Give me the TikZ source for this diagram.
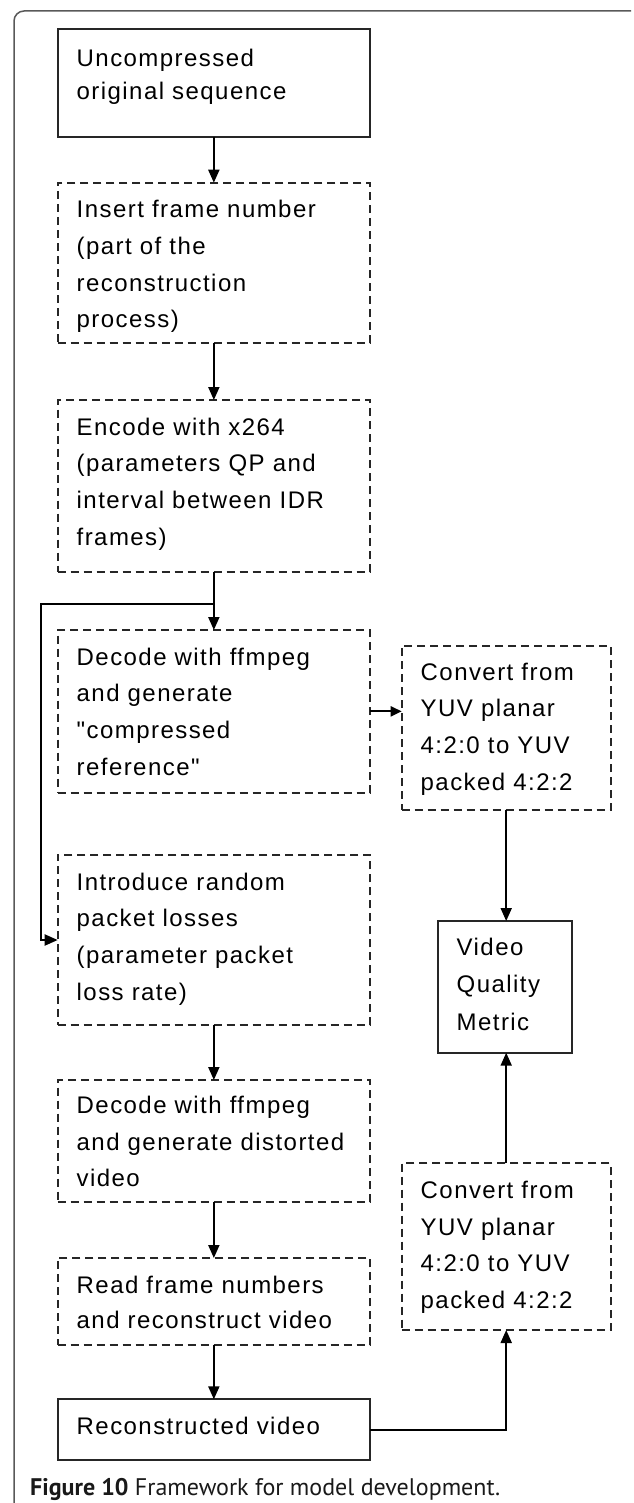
\documentclass[tikz,border=0pt]{standalone}
\usepackage{fontspec}
\usetikzlibrary{arrows.meta}
\newfontfamily\boxfont{Liberation Sans}[LetterSpace=6]
\newfontfamily\capfont{PT Sans}
% #1 width, #2 height, #3 baselineskip, #4 first baseline from top, #5 text
\newcommand\bxt[5]{\vbox to #2{\hsize=#1\relax\parindent=0pt\leftskip=19pt\rightskip=0pt plus 1fil\parfillskip=0pt plus 1fil\baselineskip=#3\relax\lineskiplimit=0pt\vskip\dimexpr#4-20pt\relax\noindent\rule{0pt}{20pt}#5\par\vss}}
\tikzset{
  bx/.style={draw=black!85, line width=1.8pt, inner sep=0pt, outer sep=0pt, anchor=north west,
             font=\boxfont\fontsize{24pt}{36.7pt}\selectfont},
  dbx/.style={bx, dash pattern=on 8pt off 5pt},
  arr/.style={draw=black, line width=2pt, -{Triangle[length=13pt,width=11pt]}},
  arrs/.style={draw=black, line width=2pt, -{Triangle[length=11pt,width=10pt]}},
  frame/.style={draw=black!65, line width=1.5pt, rounded corners=10pt},
}
\begin{document}
\begin{tikzpicture}[x=1pt,y=-1pt]
\useasboundingbox (0,0) rectangle (633,1503);
\draw[frame] (14,1510) -- (14,11) -- (631,11);

\node[bx]  (B1) at (57.7,29.3)   {\bxt{312.3pt}{107.4pt}{33.3pt}{37.4pt}{Uncompressed\\original sequence}};
\node[dbx] (B2) at (57.7,182.7)  {\bxt{312.3pt}{160pt}{36.7pt}{35pt}{Insert frame number\\(part of the\\reconstruction\\process)}};
\node[dbx] (B3) at (57.7,400)    {\bxt{312.3pt}{171.7pt}{36.7pt}{35pt}{Encode with x264\\(parameters QP and\\interval between IDR\\frames)}};
\node[dbx] (D1) at (57.7,630)    {\bxt{312.3pt}{162.7pt}{36.7pt}{35pt}{Decode with ffmpeg\\and generate\\"compressed\\reference"}};
\node[dbx] (I)  at (57.7,855)    {\bxt{312.3pt}{170pt}{36.7pt}{35pt}{Introduce random\\packet losses\\(parameter packet\\loss rate)}};
\node[dbx] (D2) at (57.7,1080)   {\bxt{312.3pt}{121.7pt}{36.7pt}{33.5pt}{Decode with ffmpeg\\and generate distorted\\video}};
\node[dbx] (R)  at (57.7,1258)   {\bxt{312.3pt}{87pt}{35pt}{35pt}{Read frame numbers\\and reconstruct video}};
\node[bx]  (Rec) at (57.7,1399.3) {\bxt{312.3pt}{60.7pt}{36.7pt}{35.5pt}{Reconstructed video}};
\node[dbx] (C1) at (401.7,645.7) {\bxt{209pt}{164.3pt}{36.7pt}{34.5pt}{Convert from\\YUV planar\\4:2:0 to YUV\\packed 4:2:2}};
\node[dbx] (C2) at (401.7,1163.3) {\bxt{209pt}{166.7pt}{36.7pt}{35pt}{Convert from\\YUV planar\\4:2:0 to YUV\\packed 4:2:2}};
\node[bx]  (V)  at (437.7,921)   {\bxt{134.6pt}{131.7pt}{37.5pt}{34pt}{Video\\Quality\\Metric}};

\coordinate (br) at (213.85,604);
\coordinate (bl) at (41.3,604);

\draw[arr] (B1.south) -- (B2.north);
\draw[arr] (B2.south) -- (B3.north);
\draw[arr] (B3.south) -- (D1.north);
\draw[arr] (br) -- (bl) |- (I.west);
\draw[arrs] (D1.east) -- (D1.east -| C1.west);
\draw[arr] (C1.south) -- (C1.south |- V.north);
\draw[arr] (I.south) -- (D2.north);
\draw[arr] (D2.south) -- (R.north);
\draw[arr] (R.south) -- (Rec.north);
\draw[arr] (Rec.east) -| (C2.south);
\draw[arr] (C2.north) -- (C2.north |- V.south);

\node[anchor=base west, inner sep=0pt, font=\capfont\fontsize{24pt}{28pt}\selectfont, text=black!90] (cap) at (30,1495)
  {\textbf{Figure 10} Framework for model development.};
\end{tikzpicture}
\end{document}
